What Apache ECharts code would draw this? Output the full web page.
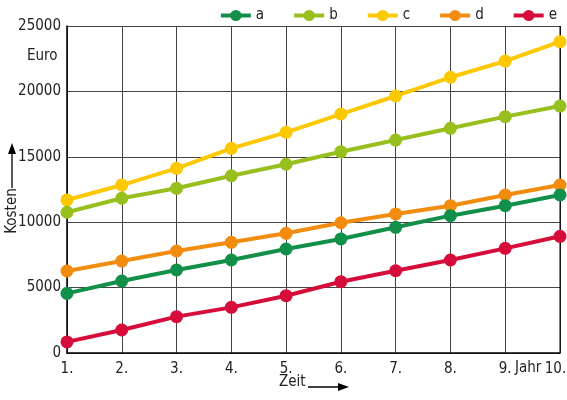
<!DOCTYPE html>
<html>
<head>
<meta charset="utf-8">
<title>Kosten</title>
<script src="https://cdn.jsdelivr.net/npm/echarts@6/dist/echarts.min.js"></script>
<style>
html,body{margin:0;padding:0;background:#fff;}
#chart{width:567px;height:400px;}
</style>
</head>
<body>
<div id="chart"></div>
<script>
// Jahre (x-Achse)
var years = ['1.', '2.', '3.', '4.', '5.', '6.', '7.', '8.', '9.', '10.'];
var names = ['a', 'b', 'c', 'd', 'e'];
var colors = ['#12904a', '#97bf1d', '#fcc800', '#f28c0f', '#d60d3a'];

// Kosten in Euro
var a = [4560, 5500, 6350, 7110, 7950, 8720, 9610, 10500, 11260, 12080];
var b = [10760, 11830, 12590, 13550, 14430, 15390, 16280, 17180, 18070, 18880];
var c = [11700, 12840, 14120, 15650, 16870, 18270, 19650, 21080, 22320, 23800];
var d = [6270, 7030, 7800, 8460, 9150, 9960, 10630, 11260, 12080, 12840];
var e = [850, 1760, 2780, 3490, 4380, 5450, 6290, 7110, 8000, 8920];
var values = [a, b, c, d, e];

var font = "'DejaVu Sans Condensed', 'Liberation Sans Narrow', sans-serif";
var txt = '#222';

var series = [];
for (var i = 0; i < names.length; i++) {
    series.push({
        name: names[i],
        type: 'line',
        data: values[i],
        symbol: 'circle',
        symbolSize: 13,
        lineStyle: {width: 4, color: colors[i]},
        itemStyle: {color: colors[i]},
        z: 10 - i
    });
}

var myChart = echarts.init(document.getElementById('chart'));
myChart.setOption({
    animation: false,
    textStyle: {fontFamily: font},
    legend: {
        data: names,
        right: 5,
        top: 3,
        itemWidth: 30,
        itemHeight: 14,
        itemGap: 28,
        lineStyle: {width: 4},
        textStyle: {fontSize: 15, color: txt, fontFamily: font}
    },
    grid: {left: 67, right: 7, top: 26, bottom: 47, containLabel: false, outerBoundsMode: 'none'},
    xAxis: {
        type: 'category',
        data: years,
        boundaryGap: false,
        axisLine: {lineStyle: {color: '#000', width: 1.5}},
        axisTick: {show: false, interval: 0},
        axisLabel: {
            interval: 0,
            hideOverlap: false,
            fontSize: 15, color: txt, margin: 9, fontFamily: font,
            // letztes Label etwas nach links, damit es nicht abgeschnitten wird
            formatter: function (v, idx) {
                return idx === years.length - 1 ? '{last|' + v + '}' : v;
            },
            rich: {last: {fontSize: 15, color: txt, fontFamily: font, padding: [0, 9, 0, 0]}}
        },
        splitLine: {show: true, interval: 0, lineStyle: {color: '#444', width: 1}}
    },
    yAxis: {
        type: 'value',
        min: 0,
        max: 25000,
        interval: 5000,
        axisLine: {show: true, lineStyle: {color: '#000', width: 1.5}},
        axisTick: {show: false},
        axisLabel: {fontSize: 15, color: txt, margin: 6, fontFamily: font,
            formatter: function (v) { return String(v); }},
        splitLine: {lineStyle: {color: '#444', width: 1}}
    },
    graphic: [
        {type: 'rect', shape: {x: 559.5, y: 26, width: 1.2, height: 327}, style: {fill: '#000'}, z: 5},
        {type: 'text', left: 27, top: 49, style: {text: 'Euro', fontSize: 15, fill: txt, fontFamily: font}},
        {type: 'text', left: 515, top: 361, style: {text: 'Jahr', fontSize: 15, fill: txt, fontFamily: font}},
        {type: 'text', left: 279, top: 375, style: {text: 'Zeit', fontSize: 15, fill: txt, fontFamily: font}},
        {type: 'line', shape: {x1: 308, y1: 387, x2: 342, y2: 387}, style: {stroke: '#000', lineWidth: 1.3}},
        {type: 'polygon', shape: {points: [[349, 387], [338, 383], [338, 391]]}, style: {fill: '#000'}},
        {type: 'text', x: 12, y: 211, rotation: Math.PI / 2, style: {text: 'Kosten', fontSize: 15, fill: txt, fontFamily: font, align: 'center', verticalAlign: 'middle'}},
        {type: 'line', shape: {x1: 12, y1: 188, x2: 12, y2: 152}, style: {stroke: '#000', lineWidth: 1.3}},
        {type: 'polygon', shape: {points: [[12, 143], [8, 154], [16, 154]]}, style: {fill: '#000'}}
    ],
    series: series
});
</script>
</body>
</html>
